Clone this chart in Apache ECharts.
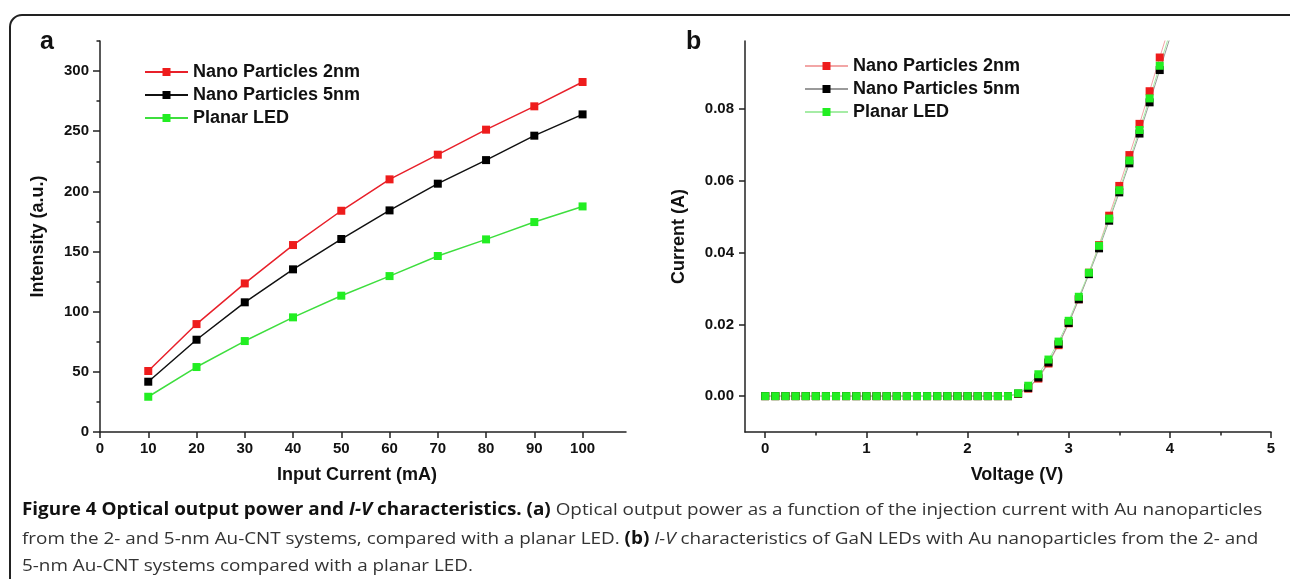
<!DOCTYPE html>
<html>
<head>
<meta charset="utf-8">
<script src="https://cdn.jsdelivr.net/npm/echarts@6/dist/echarts.min.js"></script>
<style>
  html, body { margin: 0; padding: 0; background: #fff; }
  #chart { width: 1290px; height: 579px; }
</style>
</head>
<body>
<div id="chart"></div>
<script>
// panel a: intensity vs input current
var currentMA = [10, 20, 30, 40, 50, 60, 70, 80, 90, 100];
var np2nm = [50.7, 89.7, 123.5, 155.4, 183.9, 210.0, 230.5, 251.3, 270.7, 290.9];
var np5nm = [41.8, 76.7, 107.8, 135.2, 160.4, 184.2, 206.4, 226.0, 246.3, 264.0];
var planarLed = [29.3, 54.0, 75.6, 95.3, 113.3, 129.6, 146.3, 160.1, 174.5, 187.5];

// panel b: I-V curves
var voltage = [0, 0.1, 0.2, 0.3, 0.4, 0.5, 0.6, 0.7, 0.8, 0.9,
               1.0, 1.1, 1.2, 1.3, 1.4, 1.5, 1.6, 1.7, 1.8, 1.9,
               2.0, 2.1, 2.2, 2.3, 2.4, 2.5, 2.6, 2.7, 2.8, 2.9,
               3.0, 3.1, 3.2, 3.3, 3.4, 3.5, 3.6, 3.7, 3.8, 3.9, 4.0];
var iv2nm = [0, 0, 0, 0, 0, 0, 0, 0, 0, 0, 0, 0, 0, 0, 0, 0, 0, 0, 0, 0, 0, 0, 0, 0, 0,
             0.0006, 0.0021, 0.0049, 0.0091, 0.0142, 0.0203, 0.0270, 0.0344, 0.0421, 0.0503,
             0.0586, 0.0672, 0.0759, 0.0850, 0.0944, 0.1035];
var iv5nm = [0, 0, 0, 0, 0, 0, 0, 0, 0, 0, 0, 0, 0, 0, 0, 0, 0, 0, 0, 0, 0, 0, 0, 0, 0,
             0.0007, 0.0023, 0.0052, 0.0094, 0.0145, 0.0204, 0.0270, 0.0340, 0.0412, 0.0489,
             0.0568, 0.0649, 0.0732, 0.0819, 0.0909, 0.0998];
var ivPlanar = [0, 0, 0, 0, 0, 0, 0, 0, 0, 0, 0, 0, 0, 0, 0, 0, 0, 0, 0, 0, 0, 0, 0, 0, 0,
                0.0008, 0.0029, 0.0061, 0.0102, 0.0152, 0.0210, 0.0277, 0.0344, 0.0419, 0.0495,
                0.0574, 0.0657, 0.0742, 0.0830, 0.0921, 0.1012];

var xLabelsA = [0, 10, 20, 30, 40, 50, 60, 70, 80, 90, 100];
var yLabelsA = [0, 50, 100, 150, 200, 250, 300];
var yMinorA = [25, 75, 125, 175, 225, 275, 325];
var xLabelsB = [0, 1, 2, 3, 4, 5];
var xMinorB = [0.5, 1.5, 2.5, 3.5, 4.5];
var yLabelsB = [0, 0.02, 0.04, 0.06, 0.08];

var seriesNames = ['Nano Particles 2nm', 'Nano Particles 5nm', 'Planar LED'];

function pairs(xs, ys) {
    var out = [];
    for (var i = 0; i < xs.length; i++) out.push([xs[i], ys[i]]);
    return out;
}

var axisFont = { fontFamily: 'Liberation Sans', fontWeight: 'bold', fontSize: 15, color: '#111' };
var lineCol = { color: '#222', width: 1.5 };

function nameFont(pad) {
    return { fontFamily: 'Liberation Sans', fontWeight: 'bold', fontSize: 18, color: '#111', padding: pad };
}

function mainAxis(grid, min, max, labels, len, fmt) {
    return {
        type: 'value', gridIndex: grid, min: min, max: max,
        axisLine: { show: true, onZero: false, lineStyle: lineCol },
        axisTick: { show: true, inside: false, length: len, customValues: labels, lineStyle: lineCol },
        axisLabel: Object.assign({ customValues: labels, margin: 10, formatter: fmt }, axisFont),
        splitLine: { show: false }
    };
}
// extra axis only for the short minor ticks
function minorAxis(grid, min, max, ticks, pos) {
    return {
        type: 'value', gridIndex: grid, min: min, max: max, position: pos,
        axisLine: { show: false, onZero: false },
        axisTick: { show: true, length: 3.5, customValues: ticks, lineStyle: lineCol },
        axisLabel: { show: false },
        splitLine: { show: false }
    };
}

var myChart = echarts.init(document.getElementById('chart'));

var xA = mainAxis(0, 0, 109, xLabelsA, 6);
xA.name = 'Input Current (mA)'; xA.nameLocation = 'middle'; xA.nameGap = 34; xA.nameTextStyle = nameFont([0, 12, 0, 0]);
xA.axisLabel.margin = 9;
var yA = mainAxis(0, 0, 325, yLabelsA, 7);
yA.name = 'Intensity (a.u.)'; yA.nameLocation = 'middle'; yA.nameGap = 53; yA.nameTextStyle = nameFont(0);
yA.axisLabel.margin = 11;

var xB = mainAxis(1, -0.2, 5, xLabelsB, 6);
xB.name = 'Voltage (V)'; xB.nameLocation = 'middle'; xB.nameGap = 34; xB.nameTextStyle = nameFont([0, 0, 0, 18]);
xB.axisLabel.margin = 9;
var yB = mainAxis(1, -0.01, 0.099, yLabelsB, 6, function (v) { return v.toFixed(2); });
yB.name = 'Current (A)'; yB.nameLocation = 'middle'; yB.nameGap = 57; yB.nameTextStyle = nameFont(0);
yB.axisLabel.margin = 11;

var legendBase = {
    orient: 'vertical', itemWidth: 43, itemHeight: 10, itemGap: 5, padding: 0,
    textStyle: { fontFamily: 'Liberation Sans', fontWeight: 'bold', fontSize: 18, color: '#111' },
    selectedMode: false
};

function lineSeries(name, xi, yi, data, line, mark, lw, size) {
    return {
        name: name, type: 'line', xAxisIndex: xi, yAxisIndex: yi, data: data,
        symbol: 'rect', symbolSize: size, showAllSymbol: true,
        lineStyle: { color: line, width: lw },
        itemStyle: { color: mark },
        emphasis: { disabled: true },
        animation: false
    };
}

var capFont = '17px "Open Sans"';
var capBold = 'bold 17px "Open Sans"';

var option = {
    animation: false,
    grid: [
        { left: 100, top: 41, width: 526, height: 391 },
        { left: 745, top: 41, width: 526, height: 391 }
    ],
    legend: [
        Object.assign({ left: 144, top: 63, data: seriesNames.slice() }, legendBase),
        Object.assign({ left: 804, top: 57, data: [seriesNames[0] + ' ', seriesNames[1] + ' ', seriesNames[2] + ' '],
            formatter: function (n) { return n.trim(); } }, legendBase)
    ],
    xAxis: [xA, xB, minorAxis(1, -0.2, 5, xMinorB, 'bottom')],
    yAxis: [yA, minorAxis(0, 0, 325, yMinorA, 'left'), yB],
    series: [
        lineSeries(seriesNames[0], 0, 0, pairs(currentMA, np2nm), '#e8202a', '#ee1c1c', 1.5, 8),
        lineSeries(seriesNames[1], 0, 0, pairs(currentMA, np5nm), '#111111', '#000000', 1.5, 8),
        lineSeries(seriesNames[2], 0, 0, pairs(currentMA, planarLed), '#3ede3e', '#22ee22', 1.5, 8),
        lineSeries(seriesNames[0] + ' ', 1, 2, pairs(voltage, iv2nm), '#f2a6a6', '#ee1c1c', 1, 8),
        lineSeries(seriesNames[1] + ' ', 1, 2, pairs(voltage, iv5nm), '#9a9a9a', '#000000', 1, 8),
        lineSeries(seriesNames[2] + ' ', 1, 2, pairs(voltage, ivPlanar), '#a6eca6', '#22ee22', 1, 8)
    ],
    graphic: [
        { type: 'rect', shape: { x: 10, y: 15, width: 1300, height: 620, r: 12 },
          style: { fill: 'none', stroke: '#222', lineWidth: 2 }, silent: true },
        { type: 'text', x: 40, y: 42, style: { text: 'a', font: 'bold 25px "Liberation Sans"', fill: '#111', verticalAlign: 'middle' } },
        { type: 'text', x: 686, y: 42, style: { text: 'b', font: 'bold 25px "Liberation Sans"', fill: '#111', verticalAlign: 'middle' } },
        { type: 'text', x: 22, y: 510, scaleX: 1.11, style: {
            text: '{b|Figure 4 Optical output power and }{bi|I-V}{b| characteristics. (a)} Optical output power as a function of the injection current with Au nanoparticles',
            font: capFont, fill: '#333', verticalAlign: 'middle',
            rich: { b: { font: capBold, fill: '#111' }, bi: { font: 'italic ' + capBold, fill: '#111' } } } },
        { type: 'text', x: 22, y: 539, scaleX: 1.11, style: {
            text: 'from the 2- and 5-nm Au-CNT systems, compared with a planar LED. {b|(b)} {i|I-V} characteristics of GaN LEDs with Au nanoparticles from the 2- and',
            font: capFont, fill: '#333', verticalAlign: 'middle',
            rich: { b: { font: capBold, fill: '#111' }, i: { font: 'italic ' + capFont, fill: '#333' } } } },
        { type: 'text', x: 22, y: 566, scaleX: 1.11, style: {
            text: '5-nm Au-CNT systems compared with a planar LED.',
            font: capFont, fill: '#333', verticalAlign: 'middle' } }
    ]
};

myChart.setOption(option);
</script>
</body>
</html>
